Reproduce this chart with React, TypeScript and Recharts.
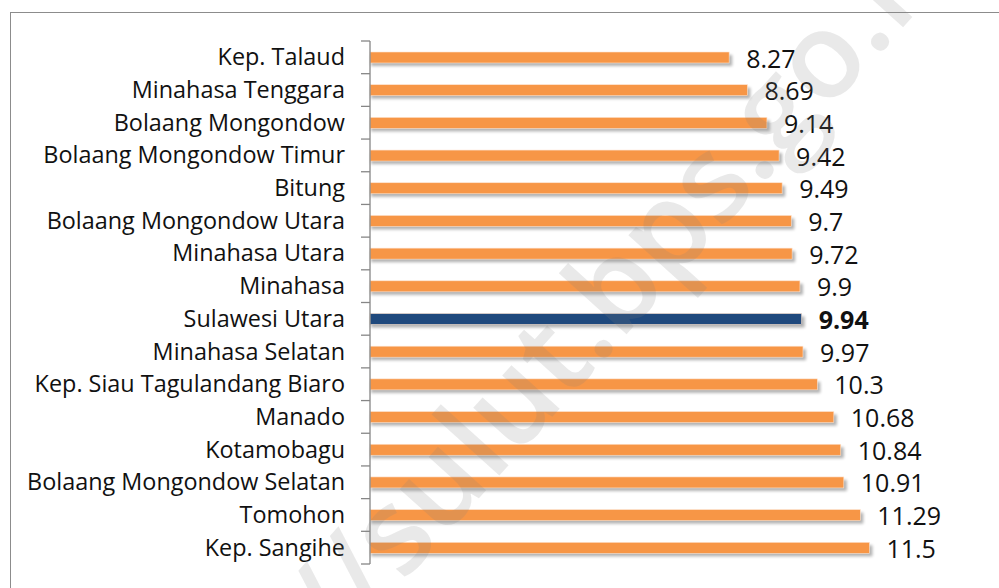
import React from 'react';
import { BarChart, Bar, XAxis, YAxis, Cell, LabelList } from 'recharts';

const categories = [
  'Kep. Talaud',
  'Minahasa Tenggara',
  'Bolaang Mongondow',
  'Bolaang Mongondow Timur',
  'Bitung',
  'Bolaang Mongondow Utara',
  'Minahasa Utara',
  'Minahasa',
  'Sulawesi Utara',
  'Minahasa Selatan',
  'Kep. Siau Tagulandang Biaro',
  'Manado',
  'Kotamobagu',
  'Bolaang Mongondow Selatan',
  'Tomohon',
  'Kep. Sangihe',
];
const values = [8.27, 8.69, 9.14, 9.42, 9.49, 9.7, 9.72, 9.9, 9.94, 9.97, 10.3, 10.68, 10.84, 10.91, 11.29, 11.5];
const highlight = 'Sulawesi Utara';
const watermarkLeft = 'https://sulut';
const watermarkRight = '.bps.go.id';

const data = categories.map((name, i) => ({ name, value: values[i] }));

const W = 999;
const H = 588;
const margin = { top: 41, right: 21, bottom: 24, left: 0 };
const band = (H - margin.top - margin.bottom) / categories.length;
const FONT = '"Open Sans", sans-serif';

const CategoryTick = (props: any) => {
  const { x, y, payload, index } = props;
  const axisX = x + 25;
  return (
    <g>
      <text x={x} y={y + 8} textAnchor="end" fontFamily={FONT} fontSize={23.4} fill="#111">
        {payload.value}
      </text>
      <line x1={axisX - 9} x2={axisX} y1={y - band / 2} y2={y - band / 2} stroke="#868686" strokeWidth={1.3} />
      {index === categories.length - 1 && (
        <line x1={axisX - 9} x2={axisX} y1={y + band / 2} y2={y + band / 2} stroke="#868686" strokeWidth={1.3} />
      )}
    </g>
  );
};

const ShadowBar = (props: any) => {
  const { x, y, width, height, fill } = props;
  return (
    <g>
      <rect x={x + 1} y={y + 3} width={width + 2} height={height} fill="#000" opacity={0.3} style={{ filter: 'blur(1.5px)' }} />
      <rect x={x} y={y} width={width} height={height} fill={fill} stroke="#fde3cf" strokeWidth={0.6} />
    </g>
  );
};

const ValueLabel = (props: any) => {
  const { x, y, width, height, value, index } = props;
  const bold = categories[index] === highlight;
  return (
    <text
      x={x + width + 17}
      y={y + height / 2 + 10}
      fontFamily={FONT}
      fontSize={25}
      fontWeight={bold ? 700 : 400}
      fill="#111"
    >
      {value}
    </text>
  );
};

export default function App() {
  const wx = 598;
  const wy = 366;
  const rot = `rotate(-48 ${wx} ${wy})`;
  return (
    <div style={{ position: 'absolute', left: 0, top: 0, width: W, height: H, overflow: 'hidden', background: '#fff' }}>
      <div
        style={{
          position: 'absolute',
          left: 10,
          top: 12,
          width: W + 20,
          height: H + 20,
          borderLeft: '1.5px solid #8c8c8c',
          borderTop: '1.5px solid #8c8c8c',
        }}
      />
      <div style={{ position: 'absolute', left: 0, top: 0 }}>
        <BarChart width={W} height={H} data={data} layout="vertical" margin={margin} barSize={11}>
          <XAxis type="number" domain={[0, 14]} hide />
          <YAxis
            type="category"
            dataKey="name"
            width={370}
            axisLine={{ stroke: '#868686', strokeWidth: 1.3 }}
            tickLine={false}
            tickSize={0}
            tickMargin={25}
            interval={0}
            tick={<CategoryTick />}
          />
          <Bar dataKey="value" isAnimationActive={false} shape={<ShadowBar />}>
            {data.map((d) => (
              <Cell key={d.name} fill={d.name === highlight ? '#1f497d' : '#f79646'} />
            ))}
            <LabelList dataKey="value" content={<ValueLabel />} />
          </Bar>
        </BarChart>
      </div>
      <svg width={W} height={H} style={{ position: 'absolute', left: 0, top: 0, pointerEvents: 'none' }}>
        <g transform={rot} fontFamily={FONT} fontSize={120} fontWeight={600} fill="#808080" opacity={0.17}>
          <text x={wx} y={wy} textAnchor="end">{watermarkLeft}</text>
          <text x={wx} y={wy} textAnchor="start">{watermarkRight}</text>
        </g>
      </svg>
    </div>
  );
}
